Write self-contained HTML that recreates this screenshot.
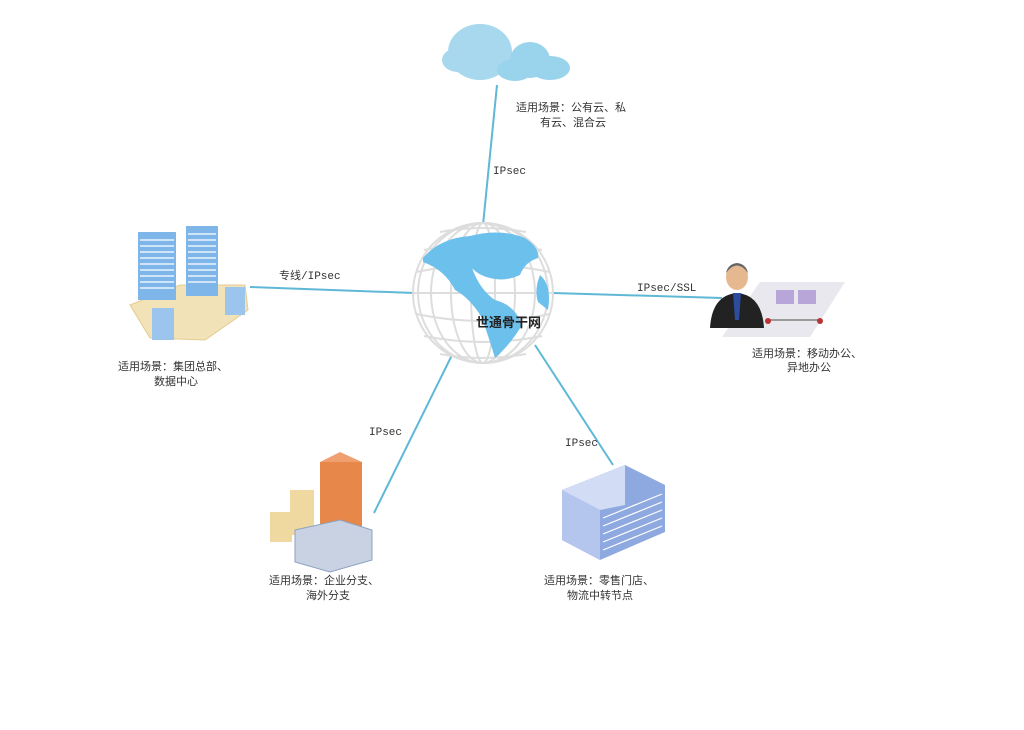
<!DOCTYPE html><html><head><meta charset="utf-8"><style>
body{margin:0;background:#fff;width:1024px;height:725px;overflow:hidden;font-family:"Liberation Sans","Noto Sans CJK SC",sans-serif}
svg text{font-family:"Liberation Mono","Noto Sans CJK SC",monospace;font-size:11px;fill:#333}
</style></head><body>
<svg width="1024" height="725" viewBox="0 0 1024 725">
<g stroke="#5fb8d6" stroke-width="2" fill="none">
<line x1="497" y1="85" x2="483" y2="225"/>
<line x1="250" y1="287" x2="414" y2="293"/>
<line x1="553" y1="293" x2="722" y2="298"/>
<line x1="452" y1="355" x2="374" y2="513"/>
<line x1="535" y1="345" x2="613" y2="465"/>
</g>
<!-- cloud -->
<g fill="#a8d8ee">
<ellipse cx="480" cy="52" rx="32" ry="28"/><ellipse cx="458" cy="60" rx="16" ry="12"/>
<rect x="443" y="52" width="70" height="18" rx="9"/>
</g>
<g fill="#9ad3ec"><ellipse cx="530" cy="60" rx="20" ry="18"/><ellipse cx="550" cy="68" rx="20" ry="12"/><ellipse cx="515" cy="70" rx="18" ry="11"/></g>
<!-- globe -->
<circle cx="483" cy="293" r="70" fill="#fff" stroke="#ddd" stroke-width="2"/>
<g stroke="#ddd" stroke-width="2" fill="none">
<ellipse cx="483" cy="293" rx="12" ry="70"/><ellipse cx="483" cy="293" rx="32" ry="70"/><ellipse cx="483" cy="293" rx="52" ry="70"/><ellipse cx="483" cy="293" rx="65" ry="70"/>
<line x1="413" y1="293" x2="553" y2="293"/><path d="M416 272 Q483 258 550 272"/><path d="M416 314 Q483 328 550 314"/>
<path d="M424 250 Q483 238 542 250"/><path d="M424 336 Q483 348 542 336"/>
<path d="M440 232 Q483 224 526 232"/><path d="M440 354 Q483 362 526 354"/>
</g>
<path d="M423 258 Q440 238 470 236 Q500 228 525 238 Q540 248 538 258 Q525 262 520 275 Q505 282 490 278 Q478 275 472 268 Q480 290 495 300 Q515 305 522 325 Q510 345 495 358 Q488 335 482 318 Q470 298 455 290 Q445 270 423 262Z" fill="#6cc0ec"/>
<path d="M540 275 Q552 285 548 310 L538 302 Q534 290 540 275Z" fill="#6cc0ec"/>
<text x="476" y="327" style="font-family:'Liberation Sans','Noto Sans CJK SC',sans-serif;font-size:13px;font-weight:bold;fill:#222">世通骨干网</text>
<!-- HQ buildings -->
<path d="M130 305 L180 285 L245 285 L248 310 L205 340 L150 338Z" fill="#f2e2b8" stroke="#e3cc8f"/>
<rect x="138" y="232" width="38" height="68" fill="#7fb6ea"/><rect x="186" y="226" width="32" height="70" fill="#7fb6ea"/>
<rect x="152" y="308" width="22" height="32" fill="#9cc5ee"/><rect x="225" y="287" width="20" height="28" fill="#9cc5ee"/>
<g stroke="#fff" stroke-width="1.2">
<line x1="140" y1="240" x2="174" y2="240"/><line x1="140" y1="246" x2="174" y2="246"/><line x1="140" y1="252" x2="174" y2="252"/><line x1="140" y1="258" x2="174" y2="258"/><line x1="140" y1="264" x2="174" y2="264"/><line x1="140" y1="270" x2="174" y2="270"/><line x1="140" y1="276" x2="174" y2="276"/><line x1="140" y1="282" x2="174" y2="282"/><line x1="140" y1="288" x2="174" y2="288"/>
<line x1="188" y1="234" x2="216" y2="234"/><line x1="188" y1="240" x2="216" y2="240"/><line x1="188" y1="246" x2="216" y2="246"/><line x1="188" y1="252" x2="216" y2="252"/><line x1="188" y1="258" x2="216" y2="258"/><line x1="188" y1="264" x2="216" y2="264"/><line x1="188" y1="270" x2="216" y2="270"/><line x1="188" y1="276" x2="216" y2="276"/><line x1="188" y1="282" x2="216" y2="282"/>
</g>
<!-- person -->
<path d="M722 337 L760 282 L845 282 L810 337Z" fill="#e8e8ee"/>
<rect x="776" y="290" width="18" height="14" fill="#b8a6d8"/><rect x="798" y="290" width="18" height="14" fill="#b8a6d8"/>
<line x1="768" y1="320" x2="820" y2="320" stroke="#999" stroke-width="2"/><circle cx="768" cy="321" r="3" fill="#b33"/><circle cx="820" cy="321" r="3" fill="#b33"/>
<path d="M710 328 Q712 295 737 293 Q762 295 764 328Z" fill="#222"/>
<ellipse cx="737" cy="277" rx="11" ry="13" fill="#e6b88f"/><path d="M726 273 Q737 258 748 273 Q746 264 737 263 Q728 264 726 273Z" fill="#666"/>
<path d="M733 293 L741 293 L739 320 L735 320Z" fill="#2c4c9c"/>
<!-- branch buildings -->
<rect x="320" y="462" width="42" height="70" fill="#e8874a"/><path d="M320 462 L340 452 L362 462Z" fill="#f0a070"/>
<rect x="290" y="490" width="24" height="45" fill="#f0d9a0"/><rect x="270" y="512" width="22" height="30" fill="#f0d9a0"/>
<path d="M295 530 L340 520 L372 530 L372 560 L330 572 L295 562Z" fill="#c8d2e2" stroke="#8ea2c2"/>
<!-- store -->
<path d="M562 490 L625 465 L665 485 L665 532 L600 560 L562 540Z" fill="#8ea8e0"/>
<path d="M562 490 L600 510 L600 560 L562 540Z" fill="#b4c6ee"/>
<path d="M625 465 L625 505 L600 510 L562 490Z" fill="#d2dcf4"/>
<g stroke="#fff" stroke-width="1.2"><line x1="603" y1="518" x2="662" y2="494"/><line x1="603" y1="526" x2="662" y2="502"/><line x1="603" y1="534" x2="662" y2="510"/><line x1="603" y1="542" x2="662" y2="518"/><line x1="603" y1="550" x2="662" y2="526"/></g>
<!-- labels -->
<text x="516" y="111">适用场景：公有云、私</text><text x="540" y="126">有云、混合云</text>
<text x="493" y="174">IPsec</text>
<text x="279" y="279">专线/IPsec</text>
<text x="637" y="291">IPsec/SSL</text>
<text x="118" y="370">适用场景：集团总部、</text><text x="154" y="385">数据中心</text>
<text x="752" y="357">适用场景：移动办公、</text><text x="787" y="371">异地办公</text>
<text x="369" y="435">IPsec</text>
<text x="565" y="446">IPsec</text>
<text x="269" y="584">适用场景：企业分支、</text><text x="306" y="599">海外分支</text>
<text x="544" y="584">适用场景：零售门店、</text><text x="567" y="599">物流中转节点</text>
</svg></body></html>
